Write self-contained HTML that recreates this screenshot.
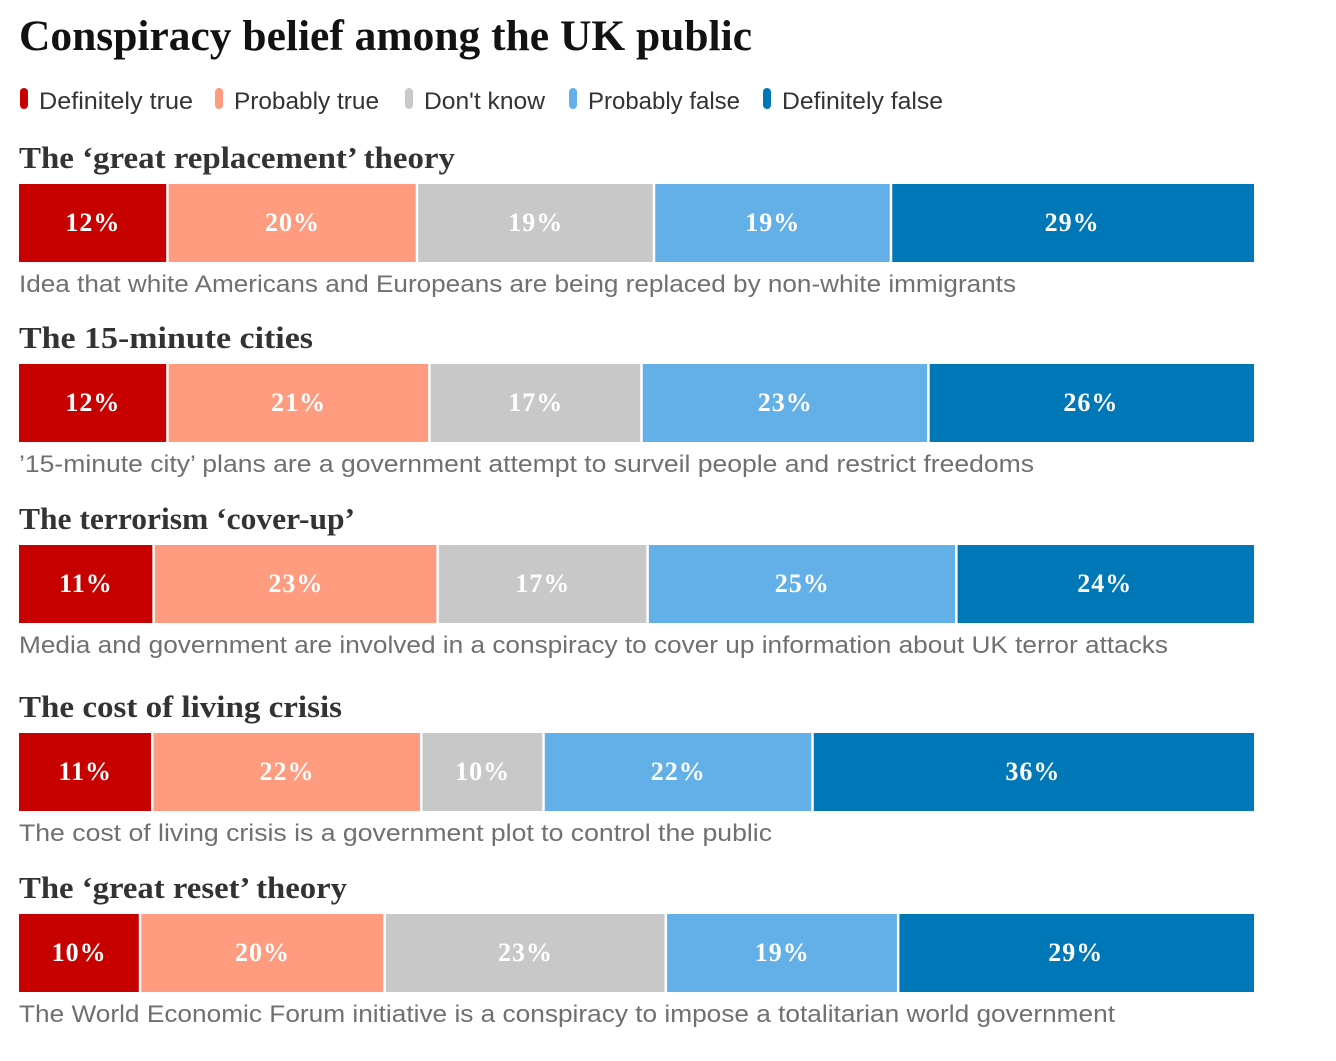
<!DOCTYPE html>
<html><head><meta charset="utf-8"><style>
body{margin:0;background:#fff;width:1336px;height:1056px;overflow:hidden}
svg text{font-family:"Liberation Serif",serif}
</style></head><body>
<svg id="c" width="1336" height="1056">
<text x="19" y="50" font-size="43" font-weight="bold" fill="#121212" textLength="733" lengthAdjust="spacingAndGlyphs">Conspiracy belief among the UK public</text>
<g id="legend"></g>
<g id="rows"></g>
</svg>
<script>
const categories=["Definitely true","Probably true","Don't know","Probably false","Definitely false"];
const titles=["The ‘great replacement’ theory","The 15-minute cities","The terrorism ‘cover-up’","The cost of living crisis","The ‘great reset’ theory"];
const descs=["Idea that white Americans and Europeans are being replaced by non-white immigrants","’15-minute city’ plans are a government attempt to surveil people and restrict freedoms","Media and government are involved in a conspiracy to cover up information about UK terror attacks","The cost of living crisis is a government plot to control the public","The World Economic Forum initiative is a conspiracy to impose a totalitarian world government"];
const row1=[12,20,19,19,29];
const row2=[12,21,17,23,26];
const row3=[11,23,17,25,24];
const row4=[11,22,10,22,36];
const row5=[10,20,23,19,29];
const values=[row1,row2,row3,row4,row5];
const colors=["#c70000","#ff9b7f","#c8c8c8","#63b0e9","#0077b6"];
const legW=[154,145,121,152,161];
const titleW=[436,294,336,323,328];
const descW=[997,1015,1149,753,1096];
const NS="http://www.w3.org/2000/svg";
function mk(tag,attrs,parent){const e=document.createElementNS(NS,tag);for(const k in attrs)e.setAttribute(k,attrs[k]);parent.appendChild(e);return e;}
const legend=document.getElementById('legend');
const legX=[20,215,405,569,763];
categories.forEach((c,i)=>{
  const r=mk('rect',{x:legX[i],y:88,width:8,height:21,rx:4,fill:colors[i]},legend);
  
  
  const t=mk('text',{x:legX[i]+19,y:109,'font-size':24,fill:'#333',textLength:legW[i],lengthAdjust:'spacingAndGlyphs','style':'font-family:"Liberation Sans",sans-serif'},legend);
  t.textContent=c;
  
  
});
const rowsG=document.getElementById('rows');
const barTop=[184,364,545,733,914];
const X0=19,W=1235,H=78;
values.forEach((vals,ri)=>{
  const g=mk('g',{},rowsG);
  
  
  const y=barTop[ri];
  const tt=mk('text',{x:19,y:y-16,'font-size':31,'font-weight':'bold',fill:'#333',textLength:titleW[ri],lengthAdjust:'spacingAndGlyphs'},g);
  tt.textContent=titles[ri];
  
  
  const total=vals.reduce((a,b)=>a+b,0);
  let acc=0;
  vals.forEach((v,i)=>{
    const x=X0+W*acc/total, w=W*v/total;
    acc+=v;
    const r=mk('rect',{x:x,y:y,width:Math.max(0,w-(i<vals.length-1?2.5:0)),height:H,fill:colors[i]},g);
    
    
    const t=mk('text',{x:x+w/2-1,y:y+47,'font-size':26,'font-weight':'bold',fill:'#fff','text-anchor':'middle','letter-spacing':1},g);
    t.textContent=v+'%';
    
    
  });
  const d=mk('text',{x:19,y:y+108,'font-size':24,fill:'#707070',textLength:descW[ri],lengthAdjust:'spacingAndGlyphs','style':'font-family:"Liberation Sans",sans-serif'},g);
  d.textContent=descs[ri];
  
  
});
</script>
</body></html>
